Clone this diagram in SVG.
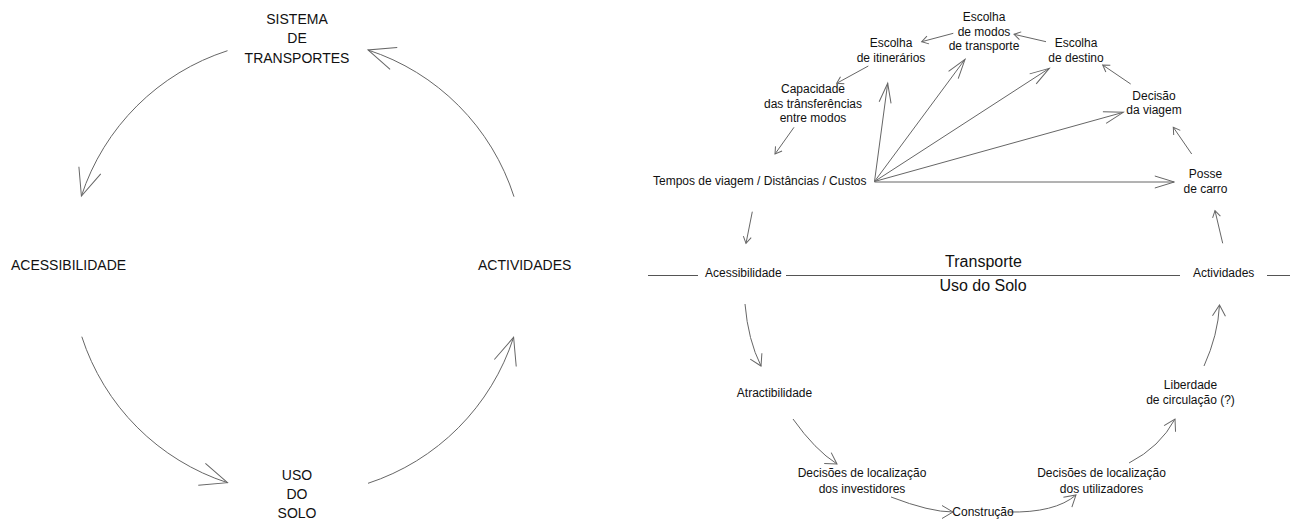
<svg xmlns="http://www.w3.org/2000/svg" width="1297" height="522" viewBox="0 0 1297 522">
<style>
text{font-family:"Liberation Sans",Arial,Helvetica,sans-serif;fill:#111}
.big{font-size:14px}
.sm{font-size:12px}
.mid{font-size:16px}
.c{text-anchor:middle}
.ln{fill:none;stroke:#666;stroke-width:1}
.lnd{fill:none;stroke:#555;stroke-width:1}
.head{fill:none;stroke:#666;stroke-width:1}
</style>
<defs>
<marker id="mBig" markerUnits="userSpaceOnUse" orient="auto" viewBox="-30 -15 32 30" markerWidth="32" markerHeight="30" refX="0" refY="0"><path class="head" d="M-27,-11.5 L0,0 L-27,11.5"/></marker>
<marker id="mFan" markerUnits="userSpaceOnUse" orient="auto" viewBox="-22 -10 24 20" markerWidth="24" markerHeight="20" refX="0" refY="0"><path class="head" d="M-19.5,-6 L0,0 L-19.5,6"/></marker>
<marker id="mMid" markerUnits="userSpaceOnUse" orient="auto" viewBox="-14 -10 16 20" markerWidth="16" markerHeight="20" refX="0" refY="0"><path class="head" d="M-11,-6.5 L0,0 L-11,6.5"/></marker>
<marker id="mSm" markerUnits="userSpaceOnUse" orient="auto" viewBox="-10 -6 12 12" markerWidth="12" markerHeight="12" refX="0" refY="0"><path class="head" d="M-6.5,-4 L0,0 L-6.5,4"/></marker>
</defs>

<!-- Left diagram -->
<g id="left-connectors">
<path class="ln" marker-end="url(#mBig)" d="M227.5,50.7 A227,227 0 0 0 81.4,196"/>
<path class="ln" marker-end="url(#mBig)" d="M514,196.7 A227,227 0 0 0 368,50"/>
<path class="ln" marker-end="url(#mBig)" d="M81.8,336.7 A227,227 0 0 0 227.5,482.7"/>
<path class="ln" marker-end="url(#mBig)" d="M368,483.3 A227,227 0 0 0 513.6,337.3"/>
</g>
<g id="n-sistema"><text class="big c" x="297" y="24">SISTEMA</text><text class="big c" x="297" y="43.3">DE</text><text class="big c" x="297" y="62.7">TRANSPORTES</text></g>
<g id="n-acessibilidade-L"><text class="big" x="11" y="270">ACESSIBILIDADE</text></g>
<g id="n-actividades-L"><text class="big" x="478" y="270">ACTIVIDADES</text></g>
<g id="n-usodosolo"><text class="big c" x="297" y="480">USO</text><text class="big c" x="297" y="499">DO</text><text class="big c" x="297" y="518">SOLO</text></g>

<!-- Right diagram -->
<g id="divider">
<line class="lnd" x1="648" y1="275.5" x2="698" y2="275.5"/>
<line class="lnd" x1="786" y1="275.5" x2="1180" y2="275.5"/>
<line class="lnd" x1="1267" y1="275.5" x2="1290" y2="275.5"/>
</g>
<g id="right-connectors">
<line class="ln" marker-end="url(#mFan)" x1="874.5" y1="181.5" x2="887.7" y2="83.3"/>
<line class="ln" marker-end="url(#mFan)" x1="874.5" y1="181.5" x2="965" y2="59.3"/>
<line class="ln" marker-end="url(#mFan)" x1="874.5" y1="181.5" x2="1049.3" y2="68.3"/>
<line class="ln" marker-end="url(#mFan)" x1="874.5" y1="181.5" x2="1123.3" y2="112.3"/>
<line class="ln" marker-end="url(#mFan)" x1="874.5" y1="182" x2="1174.3" y2="182"/>
<line class="ln" marker-end="url(#mSm)" x1="953.3" y1="33.3" x2="921.7" y2="41.7"/>
<line class="ln" marker-end="url(#mSm)" x1="1046" y1="41.7" x2="1014" y2="34.3"/>
<line class="ln" marker-end="url(#mSm)" x1="1130.7" y1="84" x2="1102.7" y2="65"/>
<line class="ln" marker-end="url(#mSm)" x1="1191.7" y1="154" x2="1173.3" y2="127.3"/>
<line class="ln" marker-end="url(#mSm)" x1="1222.7" y1="243.3" x2="1215" y2="210.7"/>
<line class="ln" marker-end="url(#mSm)" x1="868.3" y1="66" x2="836.7" y2="83.3"/>
<line class="ln" marker-end="url(#mSm)" x1="794" y1="127.3" x2="775" y2="154"/>
<line class="ln" marker-end="url(#mSm)" x1="752.3" y1="211.7" x2="746" y2="243.3"/>
<path class="ln" marker-end="url(#mMid)" d="M745,304 Q748,340 761,366"/>
<path class="ln" marker-end="url(#mMid)" d="M793,419 Q815,450 837,464"/>
<path class="ln" marker-end="url(#mMid)" d="M891,497 Q930,512 953,512"/>
<path class="ln" marker-end="url(#mMid)" d="M1008,512 Q1055,513 1076,495"/>
<path class="ln" marker-end="url(#mMid)" d="M1129,463 Q1160,447 1175,419"/>
<path class="ln" marker-end="url(#mMid)" d="M1204,366 Q1218,335 1219.5,305"/>
</g>
<g id="n-itinerarios"><text class="sm c" x="891" y="47">Escolha</text><text class="sm c" x="891" y="62">de itinerários</text></g>
<g id="n-modos"><text class="sm c" x="984" y="21">Escolha</text><text class="sm c" x="984" y="35.5">de modos</text><text class="sm c" x="984" y="50">de transporte</text></g>
<g id="n-destino"><text class="sm c" x="1076" y="47">Escolha</text><text class="sm c" x="1076" y="62">de destino</text></g>
<g id="n-decisao"><text class="sm c" x="1154" y="99.5">Decisão</text><text class="sm c" x="1154" y="114">da viagem</text></g>
<g id="n-posse"><text class="sm c" x="1205.5" y="177.5">Posse</text><text class="sm c" x="1205.5" y="192.5">de carro</text></g>
<g id="n-capacidade"><text class="sm c" x="813" y="92.7">Capacidade</text><text class="sm c" x="813" y="107.5">das trânsferências</text><text class="sm c" x="813" y="122">entre modos</text></g>
<g id="n-tempos"><text class="sm" x="653" y="184.5">Tempos de viagem / Distâncias / Custos</text></g>
<g id="n-acessibilidade-R"><text class="sm" x="705" y="277">Acessibilidade</text></g>
<g id="n-actividades-R"><text class="sm" x="1193" y="277">Actividades</text></g>
<g id="n-transporte"><text class="mid c" x="983.5" y="267">Transporte</text></g>
<g id="n-usosolo"><text class="mid c" x="983" y="291">Uso do Solo</text></g>
<g id="n-atractibilidade"><text class="sm c" x="774.5" y="396.7">Atractibilidade</text></g>
<g id="n-investidores"><text class="sm c" x="862" y="477">Decisões de localização</text><text class="sm c" x="862" y="493">dos investidores</text></g>
<g id="n-construcao"><text class="sm c" x="983" y="516">Construção</text></g>
<g id="n-utilizadores"><text class="sm c" x="1101.5" y="477">Decisões de localização</text><text class="sm c" x="1101.5" y="493">dos utilizadores</text></g>
<g id="n-liberdade"><text class="sm c" x="1190.5" y="389.3">Liberdade</text><text class="sm c" x="1190.5" y="404">de circulação (?)</text></g>
</svg>
